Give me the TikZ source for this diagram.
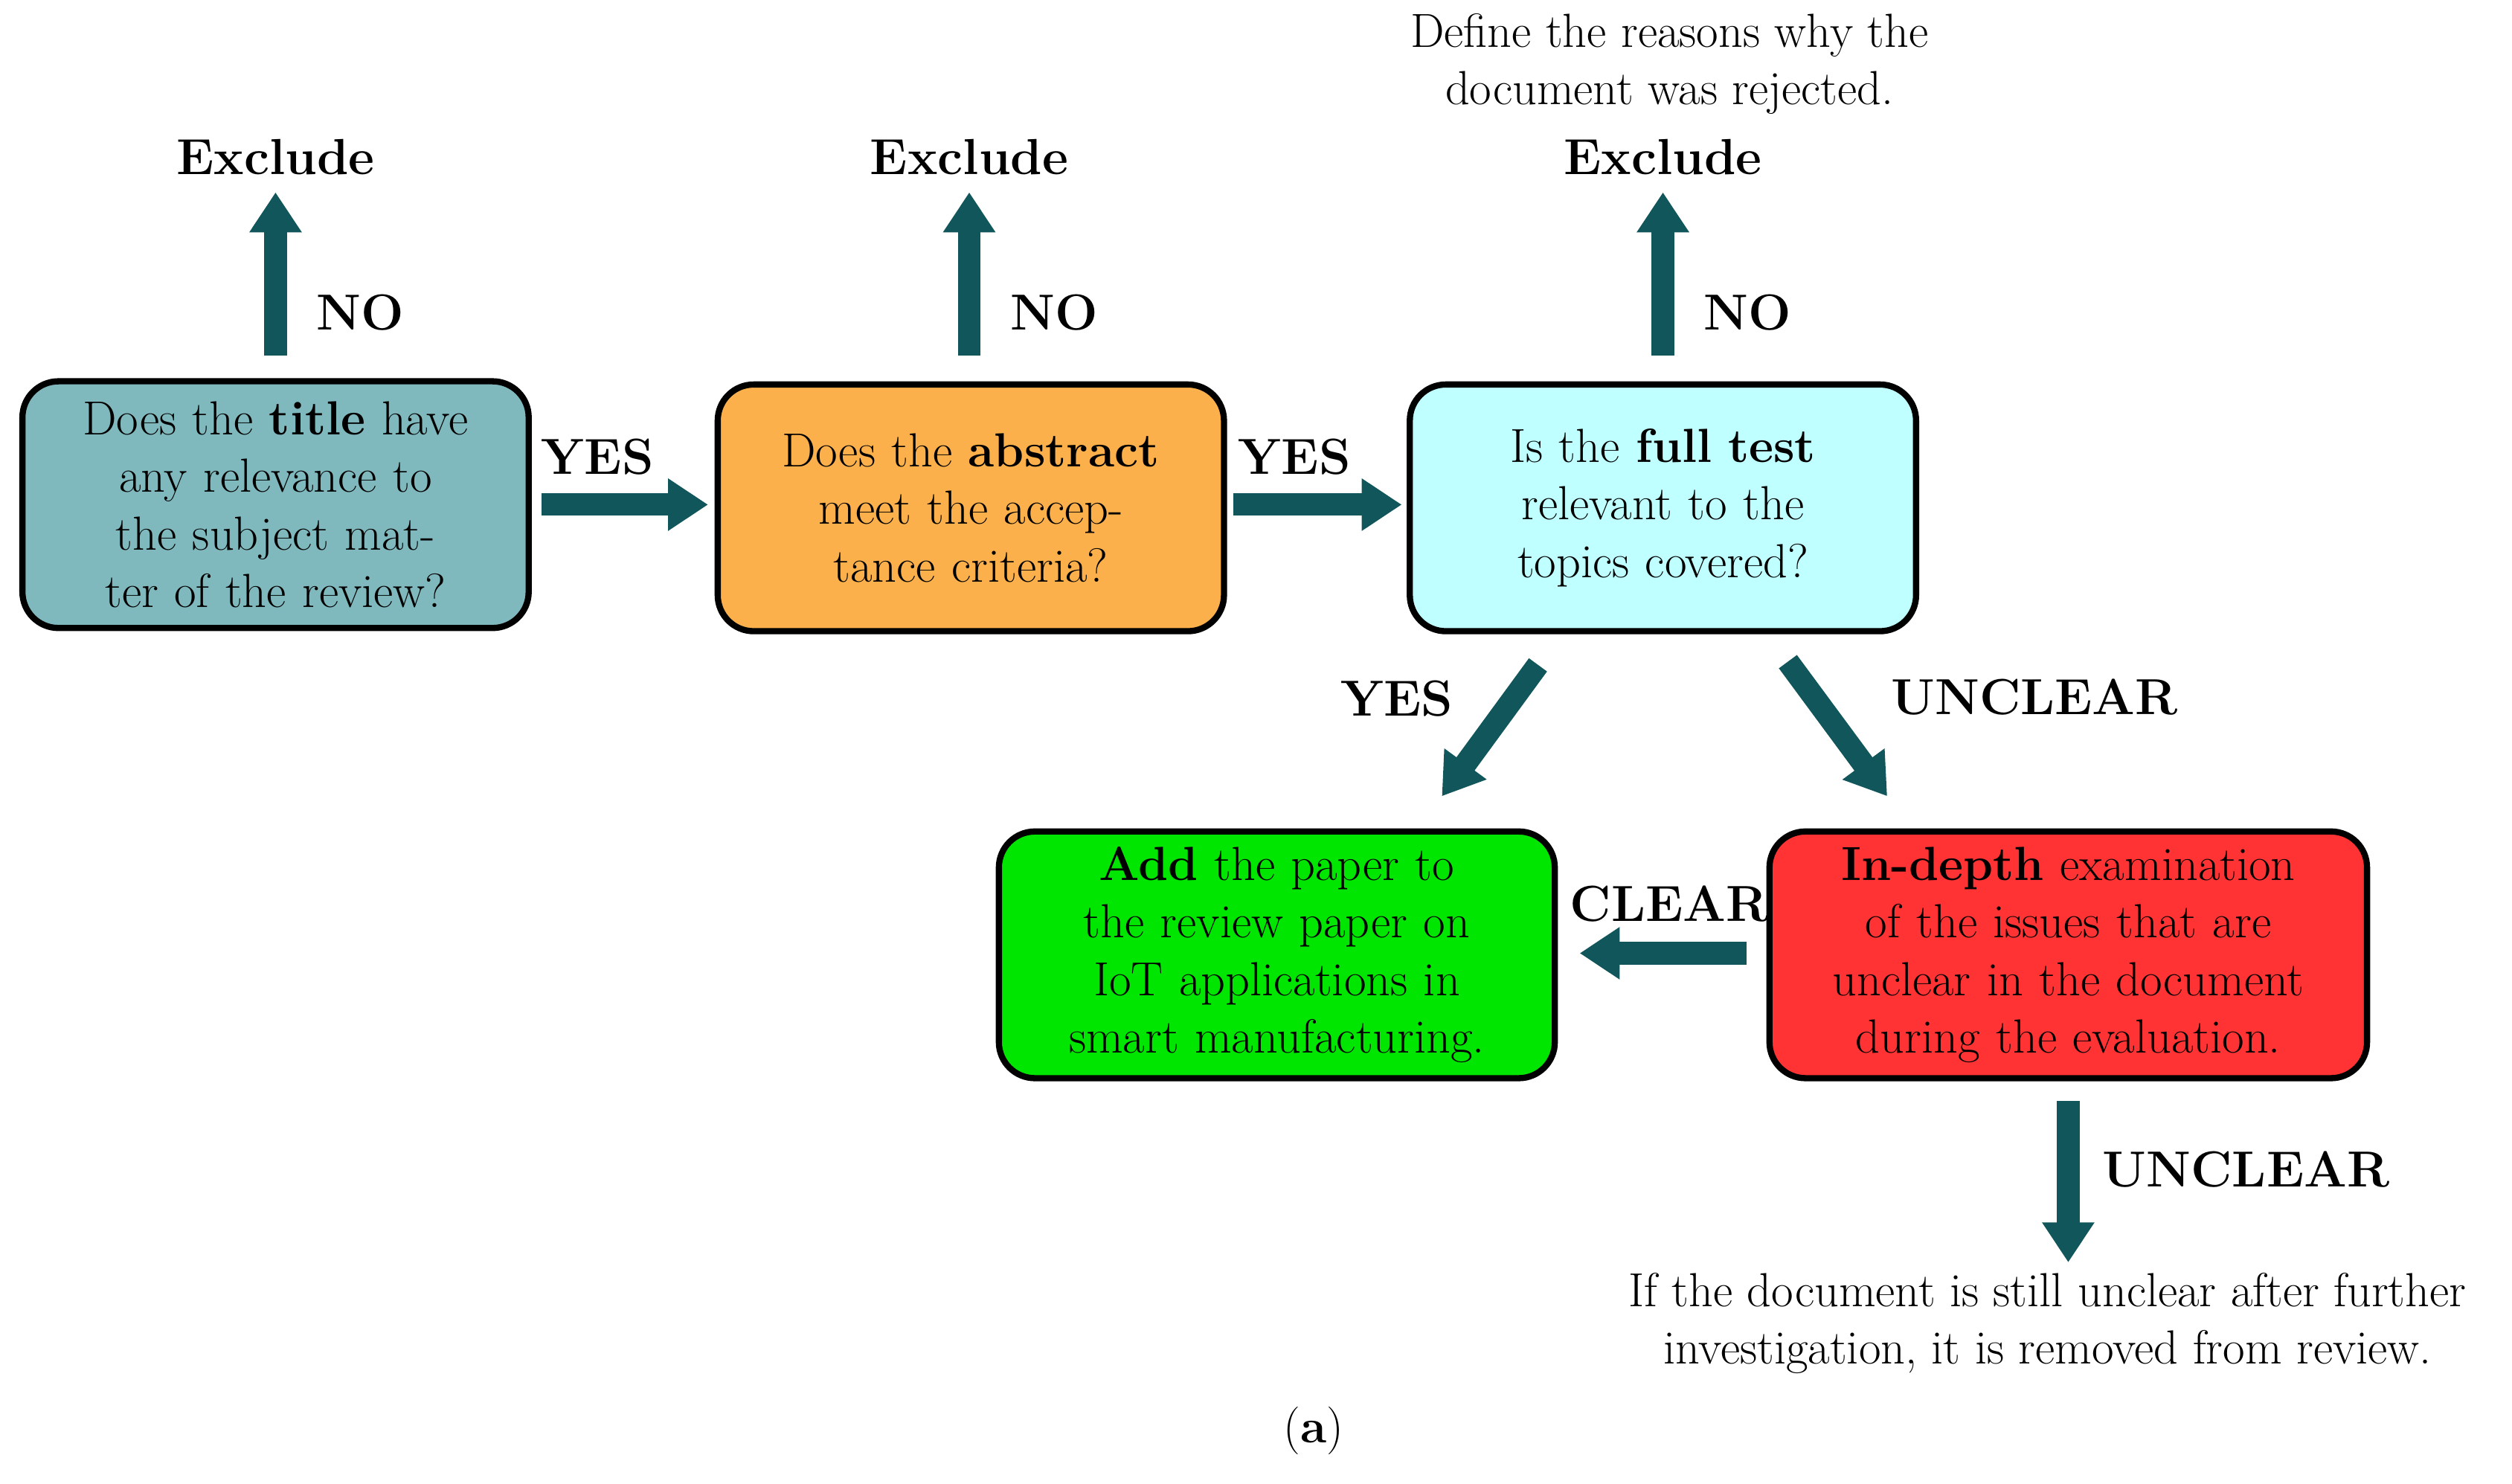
\documentclass[tikz,border=0pt]{standalone}
\usetikzlibrary{arrows.meta}
\begin{document}
\begin{tikzpicture}[x=0.02cm,y=-0.02cm,
  box/.style={draw=black,line width=2.2pt,rounded corners=0.45cm,align=center,minimum height=154*0.02cm,inner sep=2pt,font=\fontsize{17}{20.5}\selectfont},
  arr/.style={line width=0.28cm,draw=arrc,-{Triangle[length=0.5cm,width=0.62cm]}},
  lab/.style={font=\fontsize{18}{21}\selectfont\bfseries},
  txt/.style={align=center,font=\fontsize{17}{20.5}\selectfont}]
\definecolor{arrc}{HTML}{11565A}
\useasboundingbox (0,0) rectangle (1568,926);
\node[box,fill={rgb,255:red,127;green,184;blue,189},minimum width=316*0.02cm,text width=290*0.02cm] (b1) at (172,315) {Does the \textbf{title} have any relevance to the subject matter of the review?};
\node[box,fill={rgb,255:red,251;green,176;blue,76},minimum width=316*0.02cm,text width=290*0.02cm] (b2) at (606,317) {Does the \textbf{abstract} meet the acceptance criteria?};
\node[box,fill={rgb,255:red,191;green,255;blue,255},minimum width=316*0.02cm,text width=290*0.02cm] (b3) at (1038,317) {Is the \textbf{full test} relevant to the topics covered?};
\node[box,fill={rgb,255:red,0;green,230;blue,0},minimum width=347*0.02cm,text width=320*0.02cm] (b4) at (797,596) {\textbf{Add} the paper to the review paper on IoT applications in smart manufacturing.};
\node[box,fill={rgb,255:red,255;green,51;blue,51},minimum width=373*0.02cm,text width=350*0.02cm] (b5) at (1291,596) {\textbf{In-depth} examination of the issues that are unclear in the document during the evaluation.};
\foreach \x/\n in {172/1,605/2,1038/3}{
  \coordinate (s\n) at (\x,222); \coordinate (e\n) at (\x,120);
  \node[lab] (ex\n) at (\x,98) {Exclude};
  \node[lab] (no\n) at (\x+53,195) {NO};
  \draw[arr] (s\n) -- (e\n);
}
\coordinate (r1s) at (338,315); \coordinate (r1e) at (442,315);
\coordinate (r2s) at (770,315); \coordinate (r2e) at (875,315);
\draw[arr] (r1s) -- (r1e); \draw[arr] (r2s) -- (r2e);
\node[lab] (y1) at (373,285) {YES};
\node[lab] (y2) at (808,285) {YES};
\coordinate (d1s) at (960,415); \coordinate (d1e) at (900,497);
\coordinate (d2s) at (1116,413); \coordinate (d2e) at (1178,497);
\draw[arr] (d1s) -- (d1e); \draw[arr] (d2s) -- (d2e);
\node[lab] (y3) at (872,436) {YES};
\node[lab] (u1) at (1270,435) {UNCLEAR};
\coordinate (ls) at (1090,595); \coordinate (le) at (986,595);
\draw[arr] (ls) -- (le);
\node[lab] (c1) at (1042,564) {CLEAR};
\coordinate (ds) at (1291,687); \coordinate (de) at (1291,788);
\draw[arr] (ds) -- (de);
\node[lab] (u2) at (1402,730) {UNCLEAR};
\node[txt] (top) at (1042,40) {Define the reasons why the\\document was rejected.};
\node[txt] (bot) at (1278,826) {If the document is still unclear after further\\investigation, it is removed from review.};
\node[txt] (cap) at (820,893) {(\textbf{a})};
\end{tikzpicture}
\end{document}
